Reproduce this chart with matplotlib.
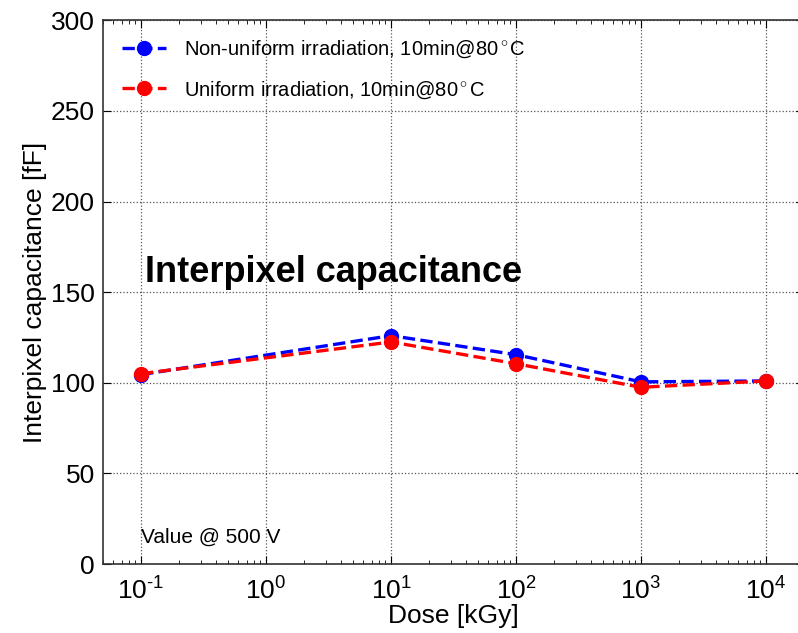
import matplotlib
matplotlib.use("Agg")
import matplotlib.pyplot as plt
from matplotlib.ticker import LogLocator, FixedLocator, NullFormatter

plt.rcParams['font.family'] = ['Liberation Sans', 'DejaVu Sans']
plt.rcParams['mathtext.fontset'] = 'custom'
plt.rcParams['mathtext.rm'] = 'Liberation Sans'
plt.rcParams['mathtext.it'] = 'Liberation Sans:italic'
plt.rcParams['mathtext.bf'] = 'Liberation Sans:bold'

dose = [0.1, 10, 100, 1000, 10000]
nonuniform = [104.5, 126, 115.5, 100.5, 101]
uniform = [105, 122.5, 110.5, 97.5, 101]
labels = ["Non-uniform irradiation, 10min@80$^\\circ$C", "Uniform irradiation, 10min@80$^\\circ$C"]
xticks = [0.1, 1, 10, 100, 1000, 10000]
xticklabels = ['10$^{\\text{-}1}$', '10$^{0}$', '10$^{1}$', '10$^{2}$', '10$^{3}$', '10$^{4}$']
yticks = [0, 50, 100, 150, 200, 250, 300]

fig = plt.figure(figsize=(7.98, 6.33), dpi=100)
ax = fig.add_axes([0.1296, 0.109, 0.8774, 0.859])

ax.plot(dose, nonuniform, '--o', color='#0000ff', lw=2.4, ms=10, label=labels[0])
ax.plot(dose, uniform, '--o', color='#ff0000', lw=2.4, ms=10, label=labels[1])

ax.set_xscale('log')
ax.set_xlim(0.05, 2e4)
ax.set_ylim(0, 300)
ax.set_yticks(yticks)
ax.xaxis.set_major_locator(FixedLocator(xticks))
ax.set_xticklabels(xticklabels)
ax.xaxis.set_minor_locator(LogLocator(base=10, subs=range(2, 10), numticks=20))
ax.xaxis.set_minor_formatter(NullFormatter())

ax.grid(True, which='major', linestyle=':', color='#555555', lw=0.9)
ax.tick_params(which='both', direction='in', top=True, right=True, labelsize=19)
ax.tick_params(axis='x', which='major', pad=10)
ax.tick_params(axis='y', which='major', pad=6)
ax.tick_params(which='major', length=6)
ax.tick_params(which='minor', length=3)
for s in ax.spines.values():
    s.set_linewidth(1.2)
    s.set_color('#333333')

ax.set_xlabel('Dose [kGy]', fontsize=19, labelpad=-1)
ax.set_ylabel('Interpixel capacitance [fF]', fontsize=19, labelpad=3)

ax.text(0.1076, 161, 'Interpixel capacitance', fontsize=26, fontweight='bold', ha='left', va='center')
ax.text(0.1, 14.5, 'Value @ 500 V', fontsize=15, ha='left', va='center')

leg = ax.legend(loc='upper left', frameon=False, fontsize=14.5, handlelength=2.2, handletextpad=0.9,
                borderaxespad=0.5, labelspacing=0.95, borderpad=0.4)

fig.savefig('out.png', dpi=100)
